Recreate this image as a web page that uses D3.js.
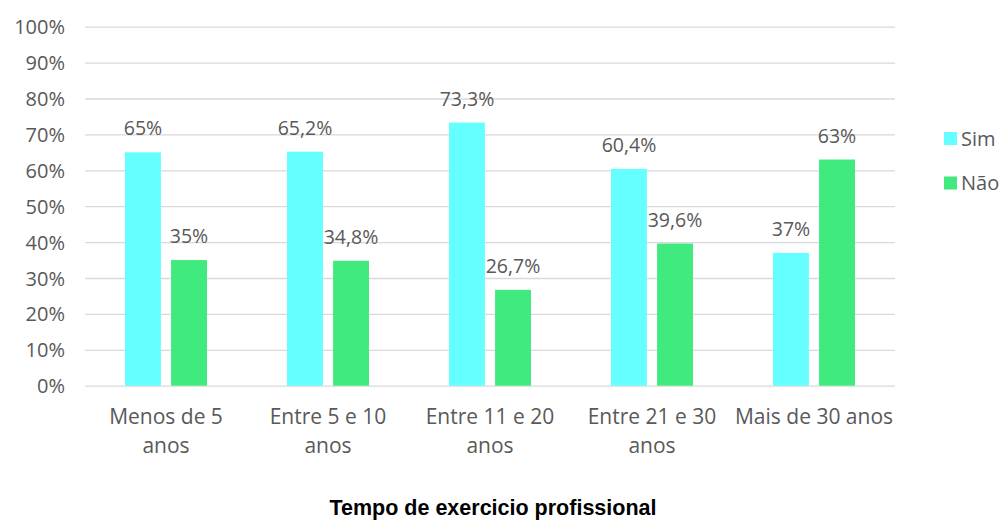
<!DOCTYPE html>
<html>
<head>
<meta charset="utf-8">
<script src="https://cdn.jsdelivr.net/npm/d3@7"></script>
<style>
  html, body { margin: 0; padding: 0; background: #fff; }
  svg { display: block; }
</style>
</head>
<body>
<svg id="chart" width="1005" height="522"></svg>
<script>
// Time in practice groups (label lines) and answer shares in percent
const categories = ["Menos de 5 anos", "Entre 5 e 10 anos", "Entre 11 e 20 anos", "Entre 21 e 30 anos", "Mais de 30 anos"];
const categoryLines = [["Menos de 5", "anos"], ["Entre 5 e 10", "anos"], ["Entre 11 e 20", "anos"], ["Entre 21 e 30", "anos"], ["Mais de 30 anos"]];
const seriesNames = ["Sim", "Não"];
const simValues = [65, 65.2, 73.3, 60.4, 37];
const naoValues = [35, 34.8, 26.7, 39.6, 63];
const yTicks = [0, 10, 20, 30, 40, 50, 60, 70, 80, 90, 100];
const axisTitle = "Tempo de exercicio profissional";

const colors = ["#66FFFF", "#41EA7E"];
const textColor = "#595959";
const font = "'Open Sans', 'Noto Sans', sans-serif";

const svg = d3.select("#chart");
const plot = { left: 85, right: 895, top: 26.7, bottom: 385.7 };

const x = d3.scaleBand().domain(categories).range([plot.left, plot.right]).paddingInner(0).paddingOuter(0);
const x1 = d3.scaleBand().domain(seriesNames).range([40, x.bandwidth() - 40]).paddingInner(0.22);
const y = d3.scaleLinear().domain([0, 100]).range([plot.bottom, plot.top]);

// Horizontal gridlines and y-axis labels
const yAxis = d3.axisLeft(y).tickValues(yTicks).tickSize(-(plot.right - plot.left)).tickFormat(d => d + "%").tickPadding(20);
const gy = svg.append("g").attr("transform", `translate(${plot.left},0)`).call(yAxis);
gy.select(".domain").remove();
gy.selectAll(".tick line").attr("stroke", "#d9d9d9").attr("stroke-width", 1.3);
gy.selectAll(".tick text").attr("fill", textColor).style("font-family", font).style("font-size", "20px").attr("dy", "0.35em");

// Category axis labels
const xAxis = d3.axisBottom(x).tickSize(0).tickFormat("");
const gx = svg.append("g").attr("transform", `translate(0,${plot.bottom})`).call(xAxis);
gx.select(".domain").remove();
gx.selectAll(".tick").each(function(d, i) {
  const t = d3.select(this).append("text")
    .attr("fill", textColor)
    .attr("text-anchor", "middle")
    .style("font-family", font)
    .style("font-size", "21px");
  categoryLines[i].forEach((line, j) => {
    t.append("tspan").attr("x", 0).attr("y", 38 + j * 29).text(line);
  });
});

// Bars with value labels
const rows = categories.map((c, i) => ({ cat: c, vals: [simValues[i], naoValues[i]] }));
const fmt = v => String(v).replace(".", ",") + "%";
const groups = svg.append("g").selectAll("g").data(rows).join("g")
  .attr("transform", d => `translate(${x(d.cat)},0)`);
groups.selectAll("rect").data(d => d.vals.map((v, k) => ({ key: seriesNames[k], v, k }))).join("rect")
  .attr("x", d => x1(d.key))
  .attr("width", x1.bandwidth())
  .attr("y", d => y(d.v))
  .attr("height", d => y(0) - y(d.v))
  .attr("fill", d => colors[d.k]);
groups.selectAll("text").data(d => d.vals.map((v, k) => ({ key: seriesNames[k], v, k }))).join("text")
  .attr("x", d => x1(d.key) + x1.bandwidth() / 2)
  .attr("y", d => y(d.v) - 17)
  .attr("text-anchor", "middle")
  .attr("fill", textColor)
  .style("font-family", font)
  .style("font-size", "19.5px")
  .text(d => fmt(d.v));

// Legend
const legend = svg.append("g").attr("transform", "translate(944,132)");
seriesNames.forEach((name, k) => {
  const g = legend.append("g").attr("transform", `translate(0,${k * 44.5})`);
  g.append("rect").attr("width", 13).attr("height", 13).attr("fill", colors[k]);
  g.append("text").attr("x", 17).attr("y", 13.5).attr("fill", textColor)
    .style("font-family", font).style("font-size", "20px").text(name);
});

// Axis title
svg.append("text")
  .attr("x", 493).attr("y", 515)
  .attr("text-anchor", "middle")
  .attr("fill", "#000")
  .style("font-family", "'Liberation Sans', Arial, sans-serif")
  .style("font-weight", "bold")
  .style("font-size", "21.5px")
  .text(axisTitle);
</script>
</body>
</html>
